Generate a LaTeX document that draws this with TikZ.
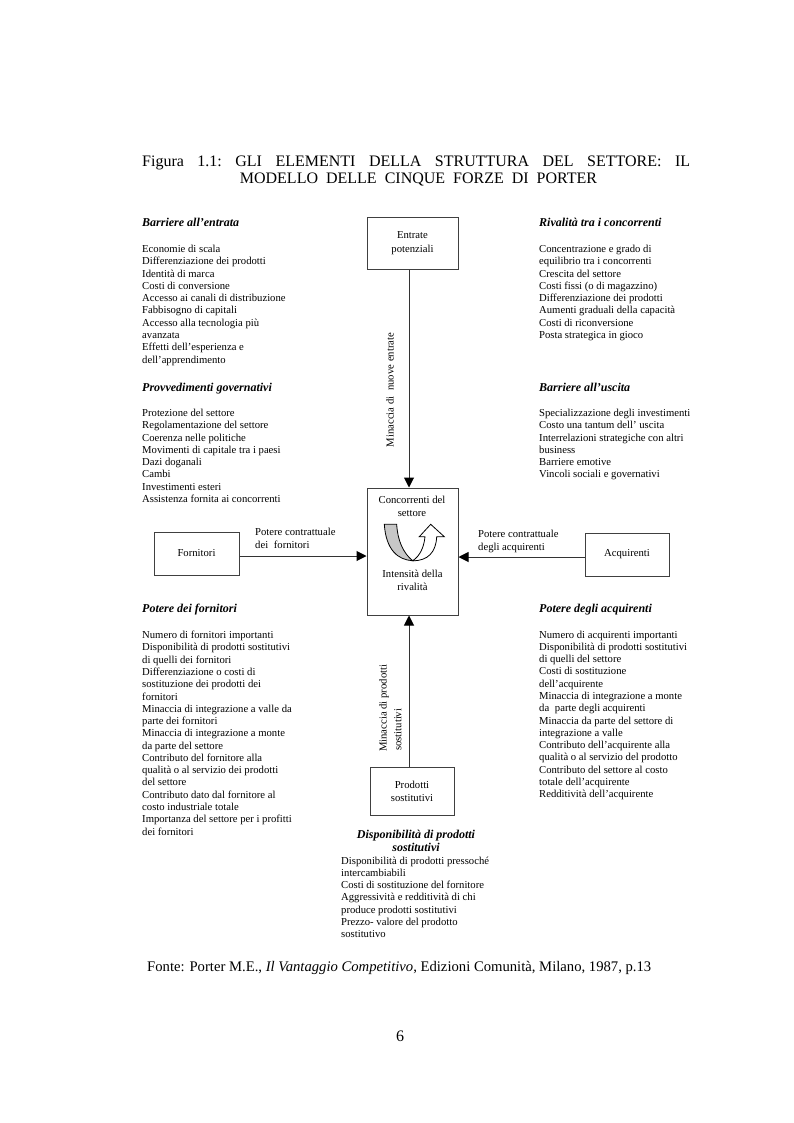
\documentclass[tikz,border=0pt]{standalone}
\usepackage{fontspec}
\setmainfont{Liberation Serif}
\usetikzlibrary{arrows.meta}
\tikzset{
  x=1pt,y=-1pt,
  txt/.style={anchor=north west,inner sep=0pt,align=left,font=\fontsize{10.67pt}{12.27pt}\selectfont},
  head/.style={anchor=base west,inner sep=0pt,font=\fontsize{12pt}{13pt}\selectfont\bfseries\itshape},
  boxn/.style={draw=black!75,line width=1pt,inner sep=0pt,align=center,font=\fontsize{10.67pt}{13.3pt}\selectfont},
  lab/.style={inner sep=0pt,align=left,font=\fontsize{10.67pt}{13pt}\selectfont},
  conn/.style={draw=black!80,line width=1pt,-{Triangle[length=10pt,width=10pt,black]}},
  titleline/.style={inner sep=0pt,font=\fontsize{16pt}{18pt}\selectfont}
}
\begin{document}
\begin{tikzpicture}
\useasboundingbox (0,0) rectangle (793,1123);
\fill[white] (0,0) rectangle (793,1123);
% title
\node[titleline,anchor=base west] (t1) at (142,167) {\makebox[548pt][s]{Figura\hfill 1.1:\hfill GLI\hfill ELEMENTI\hfill DELLA\hfill STRUTTURA\hfill DEL\hfill SETTORE:\hfill IL}};
\node[titleline,anchor=base] (t2) at (418.5,184) {MODELLO\hspace{4pt} DELLE\hspace{4pt} CINQUE\hspace{4pt} FORZE\hspace{4pt} DI\hspace{4pt} PORTER};
% boxes
\node[boxn,minimum width=91pt,minimum height=51pt] (entrate) at (412.5,243.5) {Entrate\\potenziali\rule[-3pt]{0pt}{3pt}};
\node[draw=black!75,line width=1pt,minimum width=91pt,minimum height=127pt,inner sep=0pt] (conc) at (412.5,551.5) {};
\node[boxn,minimum width=85pt,minimum height=43pt] (forn) at (196.5,553.5) {Fornitori};
\node[boxn,minimum width=84pt,minimum height=43pt] (acq) at (627,554.5) {Acquirenti};
\node[boxn,minimum width=84pt,minimum height=48pt] (prod) at (412,791) {Prodotti\\sostitutivi};
\node[lab,align=center] (c1) at (412,506.5) {Concorrenti del\\settore};
\node[lab,align=center] (c2) at (412.5,580.5) {Intensità della\\rivalità};
% curved arrow
\fill[black!22,draw=black,line width=.8pt] (384.3,524.3) -- (396.7,524.3) .. controls (397.5,540) and (403,553) .. (412.7,560.7) .. controls (398,560) and (386,550) .. cycle;
\draw[black,line width=.8pt,fill=white] (412.7,560.7) .. controls (420,556) and (424,547) .. (425,536.7) -- (419.3,536.7) -- (430.7,524.3) -- (444.3,536.7) -- (436.7,536.7) .. controls (436,552) and (428,561) .. cycle;
% connectors
\coordinate (xa) at (409,0);
\coordinate (yf) at (0,556);
\coordinate (yq) at (0,557);
\draw[conn] (xa |- entrate.south) -- (xa |- conc.north);
\draw[conn] (xa |- prod.north) -- (xa |- conc.south);
\draw[conn] (forn.east |- yf) -- (conc.west |- yf);
\draw[conn] (acq.west |- yq) -- (conc.east |- yq);
% connector labels
\node[lab,anchor=south west] (lf) at (255,549) {Potere contrattuale\\\hspace{0pt}dei\hspace{3pt} fornitori};
\node[lab,anchor=south west] (lq) at (478,553) {Potere contrattuale\\degli acquirenti};
\node[lab,rotate=90,anchor=center] (lm) at (390,390) {Minaccia di\hspace{3pt} nuove entrate};
\node[lab,rotate=90,anchor=west] (lp) at (384,752) {Minaccia di prodotti};
\node[lab,rotate=90,anchor=west] (lp2) at (398,751) {sostitutivi};
% left column
\node[head] (h1) at (142,226) {Barriere all’entrata};
\node[txt] (l1) at (142,245) {Economie di scala\\Differenziazione dei prodotti\\Identità di marca\\Costi di conversione\\Accesso ai canali di distribuzione\\Fabbisogno di capitali\\Accesso alla tecnologia più\\avanzata\\Effetti dell’esperienza e\\dell’apprendimento};
\node[head] (h2) at (142,391) {Provvedimenti governativi};
\node[txt] (l2) at (142,409) {Protezione del settore\\Regolamentazione del settore\\Coerenza nelle politiche\\Movimenti di capitale tra i paesi\\Dazi doganali\\Cambi\\Investimenti esteri\\Assistenza fornita ai concorrenti};
\node[head] (h3) at (142,612) {Potere dei fornitori};
\node[txt] (l3) at (142,631) {Numero di fornitori importanti\\Disponibilità di prodotti sostitutivi\\di quelli dei fornitori\\Differenziazione o costi di\\sostituzione dei prodotti dei\\fornitori\\Minaccia di integrazione a valle da\\parte dei fornitori\\Minaccia di integrazione a monte\\da parte del settore\\Contributo del fornitore alla\\qualità o al servizio dei prodotti\\del settore\\Contributo dato dal fornitore al\\costo industriale totale\\Importanza del settore per i profitti\\dei fornitori};
% right column
\node[head] (h4) at (539,226) {Rivalità tra i concorrenti};
\node[txt] (l4) at (539,245) {Concentrazione e grado di\\equilibrio tra i concorrenti\\Crescita del settore\\Costi fissi (o di magazzino)\\Differenziazione dei prodotti\\Aumenti graduali della capacità\\Costi di riconversione\\Posta strategica in gioco};
\node[head] (h5) at (539,391) {Barriere all’uscita};
\node[txt] (l5) at (539,409) {Specializzazione degli investimenti\\Costo una tantum dell’ uscita\\Interrelazioni strategiche con altri\\business\\Barriere emotive\\Vincoli sociali e governativi};
\node[head] (h6) at (539,612) {Potere degli acquirenti};
\node[txt] (l6) at (539,630.5) {Numero di acquirenti importanti\\Disponibilità di prodotti sostitutivi\\di quelli del settore\\Costi di sostituzione\\dell’acquirente\\Minaccia di integrazione a monte\\da\hspace{3pt} parte degli acquirenti\\Minaccia da parte del settore di\\integrazione a valle\\Contributo dell’acquirente alla\\qualità o al servizio del prodotto\\Contributo del settore al costo\\totale dell’acquirente\\Redditività dell’acquirente};
% bottom
\node[inner sep=0pt,align=center,font=\fontsize{12pt}{13pt}\selectfont\bfseries\itshape] (h7) at (416,840.5) {Disponibilità di prodotti\\sostitutivi};
\node[txt] (l7) at (341,856.5) {Disponibilità di prodotti pressoché\\intercambiabili\\Costi di sostituzione del fornitore\\Aggressività e redditività di chi\\produce prodotti sostitutivi\\Prezzo- valore del prodotto\\sostitutivo};
% source, page
\node[inner sep=0pt,anchor=base west,font=\fontsize{14.67pt}{17pt}\selectfont] (src) at (147,971) {Fonte: Porter M.E., \textit{Il Vantaggio Competitivo}, Edizioni Comunità, Milano, 1987, p.13};
\node[inner sep=0pt,anchor=base,font=\fontsize{16pt}{18pt}\selectfont] (pg) at (400,1041) {6};
\end{tikzpicture}
\end{document}
